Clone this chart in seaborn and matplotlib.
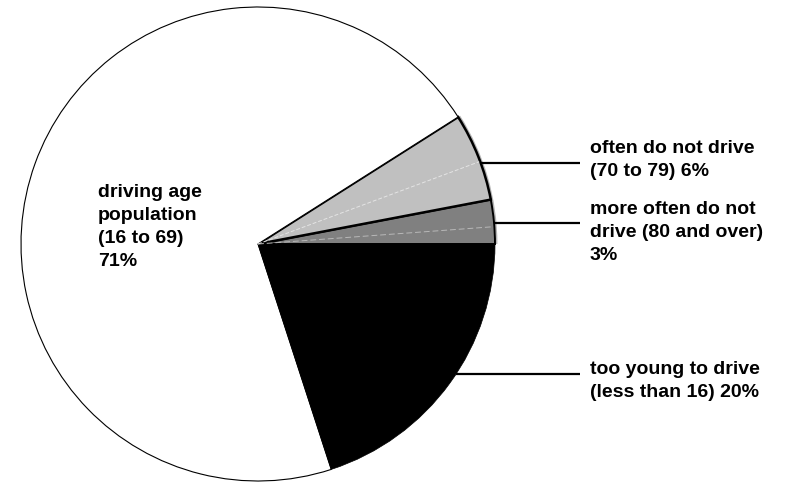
import numpy as np
import matplotlib
matplotlib.use("Agg")
import matplotlib.pyplot as plt
from matplotlib.patches import Arc
import seaborn as sns

# Population shares, listed counter-clockwise starting from 3 o'clock
groups = ["more often do not drive", "often do not drive",
          "driving age population", "too young to drive"]
shares = [3, 6, 71, 20]
labels = ["more often do not\ndrive (80 and over)\n3%",
          "often do not drive\n(70 to 79) 6%",
          "driving age\npopulation\n(16 to 69)\n71%",
          "too young to drive\n(less than 16) 20%"]

sns.set_theme(style="white")
plt.rcParams["font.family"] = ["Liberation Sans", "DejaVu Sans"]

W, H = 786, 483
fig = plt.figure(figsize=(W / 100, H / 100), dpi=100)
ax = fig.add_axes([0, 0, 1, 1])

palette = sns.color_palette(["#808080", "#c0c0c0", "#ffffff", "#000000"])
cx, cy, r = 258, H - 244, 237

wedges, _ = ax.pie(shares, colors=palette, startangle=0, counterclock=True,
                   center=(cx, cy), radius=r,
                   wedgeprops=dict(edgecolor="black", linewidth=0.8))
wedges[0].set_linewidth(1.4)
wedges[1].set_linewidth(1.8)
wedges[3].set_linewidth(0.5)

# angular extents of each wedge
bounds = np.concatenate([[0], np.cumsum(shares)]) / sum(shares) * 360.0

# soft shading on the rim of the grey wedges
rim = Arc((cx, cy), 2 * r + 3, 2 * r + 3, theta1=bounds[0], theta2=bounds[2],
          color="#b4b4b4", lw=1.3, zorder=0.5)
ax.add_patch(rim)

# faint centre lines inside the grey wedges
for i, col, ls in [(0, "#b8b8b8", (0, (6, 3))), (1, "#e4e4e4", (0, (4, 2)))]:
    mid = np.deg2rad((bounds[i] + bounds[i + 1]) / 2 - 1.2)
    ax.plot([cx, cx + (r - 1) * np.cos(mid)], [cy, cy + (r - 1) * np.sin(mid)],
            color=col, lw=0.7, ls=ls, zorder=3)

# leader lines (row in pixels from top) and text placement
leader_rows = {1: 163, 0: 223, 3: 374}
text_tops = {1: 140, 0: 201, 3: 361}
line_end_x = 580
text_x = 590
font = dict(fontsize=14, fontweight="bold", linespacing=1.46, color="black")
for i, row in leader_rows.items():
    dy = (H - row) - cy
    x0 = cx + np.sqrt(r ** 2 - dy ** 2)
    ax.plot([x0, line_end_x], [H - row, H - row], color="black", lw=1.6,
            solid_capstyle="butt", zorder=4)
    ax.text(text_x, H - text_tops[i], labels[i], ha="left", va="top", **font)

ax.text(98, H - 184, labels[2], ha="left", va="top", **font)

ax.set_xlim(0, W)
ax.set_ylim(0, H)
ax.set_aspect("equal")
ax.axis("off")

fig.savefig("out.png", dpi=100, facecolor="white")
